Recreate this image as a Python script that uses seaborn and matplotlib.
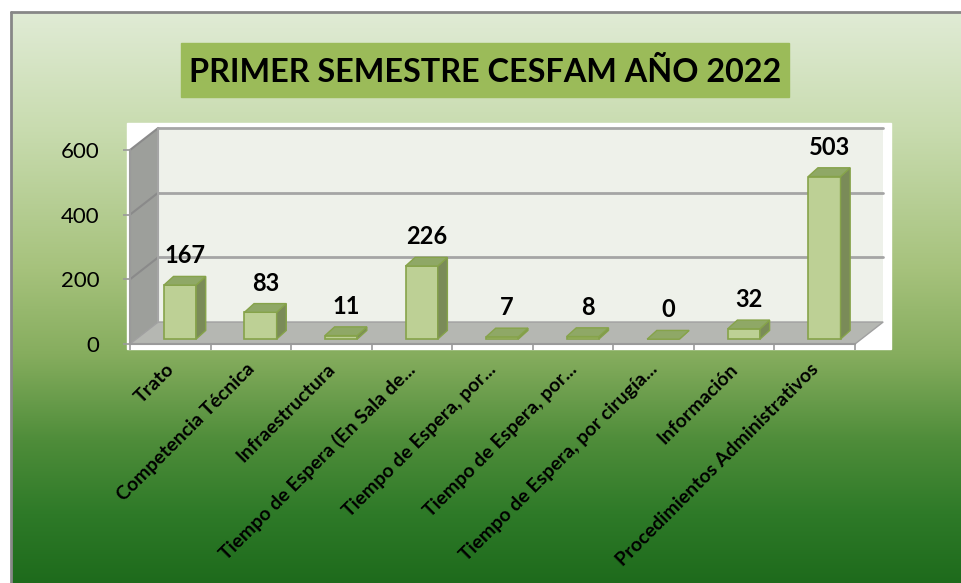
import numpy as np
import pandas as pd
import matplotlib
matplotlib.use("Agg")
import matplotlib.pyplot as plt
import matplotlib.transforms as mtransforms
from matplotlib.patches import Polygon, Rectangle
from matplotlib.colors import LinearSegmentedColormap
import seaborn as sns

# datos del gráfico
categorias = [
    "Trato",
    "Competencia Técnica",
    "Infraestructura",
    "Tiempo de Espera (En Sala de...",
    "Tiempo de Espera, por...",
    "Tiempo de Espera, por...",
    "Tiempo de Espera, por cirugía...",
    "Información",
    "Procedimientos Administrativos",
]
reclamos = [167, 83, 11, 226, 7, 8, 0, 32, 503]
y_ticks = [0, 200, 400, 600]
titulo = "PRIMER SEMESTRE CESFAM AÑO 2022"

# categorias repetidas -> se usa un id unico para el eje
df = pd.DataFrame({"id": [str(i) for i in range(len(categorias))], "valor": reclamos})

sns.set_theme(style="white")
plt.rcParams["font.family"] = ["Lato", "DejaVu Sans"]

W, H = 961, 583
fig = plt.figure(figsize=(W / 100, H / 100), dpi=100)
fig.patch.set_facecolor("white")

# fondo con degradado verde
bg = fig.add_axes([0, 0, 1, 1])
bg.set_xlim(0, W)
bg.set_ylim(H, 0)
bg.axis("off")
cmap = LinearSegmentedColormap.from_list("fondo", [
    (0.0, "#e0ebd5"), (0.2, "#c9dcb0"), (0.45, "#a6c27c"), (0.6, "#86ad5e"),
    (0.75, "#4f8d3a"), (0.88, "#2e7a28"), (1.0, "#1e6b1c")])
grad = np.linspace(0, 1, 256).reshape(-1, 1)
bg.imshow(grad, cmap=cmap, extent=[11, W, H, 12], aspect="auto", origin="upper")
bg.plot([11, 11], [12, H], color="#878787", lw=2)
bg.plot([11, W], [12, 12], color="#878787", lw=2)
bg.add_patch(Rectangle((127, 123), 764, 226, color="white"))
bg.add_patch(Rectangle((181, 43), 608, 54, color="#9bbb59"))
bg.text(485, 72, titulo, ha="center", va="center", fontsize=23.3,
        fontweight="bold", color="black")

# eje principal
ax = fig.add_axes([130 / W, (H - 344) / H, 725 / W, 194 / H])
ax.patch.set_alpha(0)

sns.barplot(data=df, x="id", y="valor", width=0.4, color="#bdd095",
            edgecolor="#86a34a", linewidth=1.2, saturation=1, ax=ax, zorder=2)

# profundidad de la caja 3D y de las barras
dx, dy = 0.35, 68
bx, by = 0.12, 15
ddx, ddy = 0.12, 27
x0, x1, ymax = -0.5, 8.5, 600

ax.add_patch(Polygon([(x0 + dx, dy), (x1 + dx, dy), (x1 + dx, ymax + dy), (x0 + dx, ymax + dy)],
                     closed=True, facecolor="#eef1ea", edgecolor="none", clip_on=False, zorder=0.5))
ax.add_patch(Polygon([(x0, 0), (x0 + dx, dy), (x0 + dx, ymax + dy), (x0, ymax)],
                     closed=True, facecolor="#9d9f9b", edgecolor="none", clip_on=False, zorder=0.5))
ax.add_patch(Polygon([(x0, 0), (x1, 0), (x1 + dx, dy), (x0 + dx, dy)],
                     closed=True, facecolor="#b5b7b2", edgecolor="#a0a0a0", lw=1, clip_on=False, zorder=0.6))
for t in y_ticks[1:]:
    ax.plot([x0 + dx, x1 + dx], [t + dy, t + dy], color="#a5a5a5", lw=2, clip_on=False, zorder=0.7)
    ax.plot([x0, x0 + dx], [t, t + dy], color="#8a8a8a", lw=1.5, clip_on=False, zorder=0.7)
ax.plot([x0 + dx, x0 + dx], [dy, ymax + dy], color="#a5a5a5", lw=1.5, clip_on=False, zorder=0.7)

for p, v in zip(ax.patches[:len(reclamos)], reclamos):
    xl, w, h = p.get_x(), p.get_width(), p.get_height()
    p.set_x(xl + bx)
    p.set_y(by)
    xl = xl + bx
    side = [(xl + w, by), (xl + w + ddx, by + ddy), (xl + w + ddx, by + h + ddy), (xl + w, by + h)]
    top = [(xl, by + h), (xl + ddx, by + h + ddy), (xl + w + ddx, by + h + ddy), (xl + w, by + h)]
    ax.add_patch(Polygon(side, closed=True, facecolor="#7a8b58", edgecolor="#86a34a", lw=1, zorder=2.1))
    ax.add_patch(Polygon(top, closed=True, facecolor="#8fa866", edgecolor="#86a34a", lw=1, zorder=2.1))
    ax.text(xl + w / 2 + ddx / 2, by + h + ddy + 28, str(v), ha="center", va="bottom",
            fontsize=17, fontweight="bold", color="black", zorder=3)

ax.set_xlim(x0, x1)
ax.set_ylim(0, ymax)
ax.set_xlabel("")
ax.set_ylabel("")
ax.set_yticks(y_ticks)
ax.set_yticklabels([str(t) for t in y_ticks], fontsize=16, color="black")
ax.set_xticks(range(len(categorias)))
ax.set_xticklabels(categorias, rotation=45, ha="right", va="center",
                   rotation_mode="anchor", fontsize=14, fontweight="bold", color="black")
ax.set_xticks(np.arange(-0.5, 9, 1), minor=True)
ax.tick_params(axis="x", which="major", length=0, pad=16)
ax.tick_params(axis="x", which="minor", length=4, width=1.2, color="#9a9a9a", direction="out", bottom=True)
ax.tick_params(axis="y", length=5, width=1.2, color="#9a9a9a", direction="out", left=True, pad=17)
offset = mtransforms.ScaledTranslation(1 / 100, 0, fig.dpi_scale_trans)
for lab in ax.get_xticklabels():
    lab.set_transform(lab.get_transform() + offset)
for side_name in ["top", "right"]:
    ax.spines[side_name].set_visible(False)
for side_name in ["left", "bottom"]:
    ax.spines[side_name].set_color("#9a9a9a")
    ax.spines[side_name].set_linewidth(1.5)
ax.grid(False)

fig.savefig("out.png", dpi=100)
